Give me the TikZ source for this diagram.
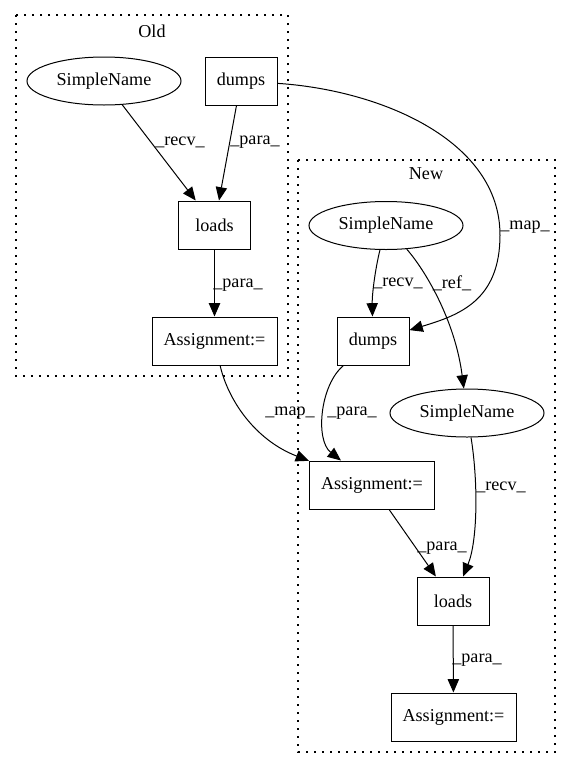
\documentclass[tikz,border=0pt]{standalone}
\usepackage{fontspec}
\setmainfont{Liberation Serif}
\usetikzlibrary{arrows.meta,shapes.geometric}
\begin{document}
\begin{tikzpicture}[x=0.75pt,y=-0.75pt,
  every node/.style={font=\fontsize{13.6}{16}\selectfont},
  boxnode/.style={draw,line width=0.75pt,rectangle,inner sep=0pt,minimum height=36pt,minimum width=54pt},
  widebox/.style={boxnode,minimum width=93.75pt},
  ellnode/.style={draw,line width=0.75pt,ellipse,inner sep=0pt,minimum height=36pt,minimum width=115.5pt},
  cluster/.style={draw,line width=0.9pt,dash pattern=on 1.2pt off 4.8pt},
  edge/.style={draw,line width=0.75pt,-{Triangle[length=10pt,width=8.5pt]}},
  elabel/.style={inner sep=0pt}]
\useasboundingbox (0,0) rectangle (571,768);
% clusters
\draw[cluster] (16,15) rectangle (288,376);
\node (oldlabel) at (152,31) {Old};
\draw[cluster] (298,160) rectangle (555,752);
\node (newlabel) at (426,174) {New};
% old nodes
\node[ellnode] (sn1) at (104,81) {SimpleName};
\node[boxnode] (dumps1) at (241,81) {dumps};
\node[boxnode] (loads1) at (214.5,225) {loads};
\node[widebox] (asg1) at (214.5,341) {Assignment:=};
% new nodes
\node[ellnode] (sn2) at (386,225.5) {SimpleName};
\node[boxnode] (dumps2) at (373,341) {dumps};
\node[ellnode] (sn3) at (467,413) {SimpleName};
\node[widebox] (asg2) at (372,485) {Assignment:=};
\node[boxnode] (loads2) at (453,601) {loads};
\node[widebox] (asg3) at (453.5,717) {Assignment:=};
% edges
\path[edge] (sn1) -- (loads1);
\path[edge] (dumps1) -- (loads1);
\path[edge] (loads1) -- (asg1);
\path[edge] (dumps1) .. controls (380,90) and (500,140) .. (500,235) .. controls (500,300) and (460,315) .. (dumps2);
\path[edge] (sn2) .. controls (375,270) and (372,295) .. (dumps2);
\path[edge] (sn2) .. controls (425,270) and (455,320) .. (sn3);
\path[edge] (dumps2) .. controls (320,385) and (315,440) .. (asg2);
\path[edge] (asg1) .. controls (228,400) and (255,440) .. (asg2);
\path[edge] (sn3) .. controls (478,480) and (478,540) .. (loads2);
\path[edge] (asg2) -- (loads2);
\path[edge] (loads2) -- (asg3);
% labels
\node[elabel] (l1) at (180,142) {\_recv\_};
\node[elabel] (l2) at (255,142) {\_para\_};
\node[elabel] (l3) at (238,285) {\_para\_};
\node[elabel] (l4) at (525,227) {\_map\_};
\node[elabel] (l5) at (398,283) {\_recv\_};
\node[elabel] (l6) at (452,283) {\_ref\_};
\node[elabel] (l7) at (352,413) {\_para\_};
\node[elabel] (l8) at (290,413) {\_map\_};
\node[elabel] (l9) at (501,487) {\_recv\_};
\node[elabel] (l10) at (442,548) {\_para\_};
\node[elabel] (l11) at (477,660) {\_para\_};
\end{tikzpicture}
\end{document}
